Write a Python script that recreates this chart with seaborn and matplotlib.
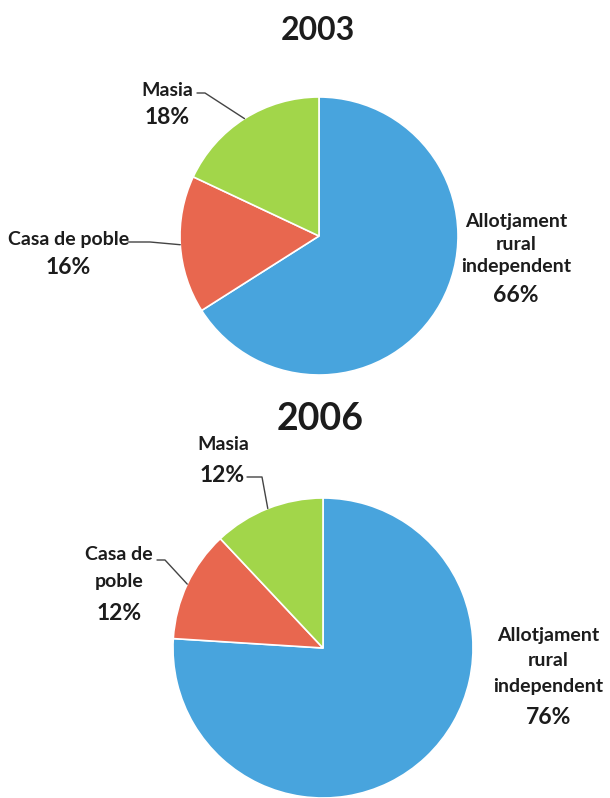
import numpy as np
import matplotlib.pyplot as plt
import seaborn as sns

# data
years = ['2003', '2006']
categories = ['Allotjament rural independent', 'Casa de poble', 'Masia']
shares_2003 = [66, 16, 18]
shares_2006 = [76, 12, 12]
colors = ['#48A4DD', '#E8674F', '#A2D64A']

sns.set_theme(style='white')
plt.rcParams['font.family'] = ['Lato', 'DejaVu Sans']

W, H = 610, 798
fig = plt.figure(figsize=(W / 100, H / 100), dpi=100)
ink = '#1c1c1c'
name_size, pct_size = 14, 16.5

# layout in pixels: pie centre/radius, title, name block, percent, leader line
layouts = [
    dict(cx=319, cy=236, r=139, title=(318, 30, 23),
         labels=[('Allotjament\nrural\nindependent', (516, 244), 1.37, (516, 295), None),
                 ('Casa de poble', (69, 240), 1.3, (68, 267), [(128, 242), (150, 242)]),
                 ('Masia', (167, 90), 1.3, (167, 118), [(197, 93), (205, 93)])]),
    dict(cx=323, cy=648, r=150, title=(320, 419, 27),
         labels=[('Allotjament\nrural\nindependent', (548, 661), 1.6, (549, 717), None),
                 ('Casa de\npoble', (119, 568), 1.7, (119, 613), [(157, 560), (165, 560)]),
                 ('Masia', (223, 445), 1.3, (222, 476), [(247, 477), (262, 477)])]),
]

for year, shares, lay in zip(years, [shares_2003, shares_2006], layouts):
    cx, cy, r = lay['cx'], lay['cy'], lay['r']
    ax = fig.add_axes([(cx - r) / W, (H - cy - r) / H, 2 * r / W, 2 * r / H])
    wedges, _ = ax.pie(shares, colors=colors, startangle=90, counterclock=False,
                       wedgeprops=dict(edgecolor='white', linewidth=1.2))
    ax.set_xlim(-1, 1)
    ax.set_ylim(-1, 1)
    ax.set_aspect('equal')

    def to_data(p):
        return ((p[0] - cx) / r, (cy - p[1]) / r)

    tx, ty, tsize = lay['title']
    x, y = to_data((tx, ty))
    ax.text(x, y, year, ha='center', va='center', fontsize=tsize,
            fontweight='bold', color=ink, clip_on=False)

    for w, share, (name, npos, ls, ppos, lead) in zip(wedges, shares, lay['labels']):
        x, y = to_data(npos)
        ax.text(x, y, name, ha='center', va='center', fontsize=name_size,
                fontweight='bold', color=ink, linespacing=ls, clip_on=False)
        x, y = to_data(ppos)
        ax.text(x, y, f'{share}%', ha='center', va='center', fontsize=pct_size,
                fontweight='bold', color=ink, clip_on=False)
        if lead:
            theta = np.deg2rad((w.theta1 + w.theta2) / 2)
            pts = [to_data(p) for p in lead] + [(np.cos(theta), np.sin(theta))]
            ax.plot([p[0] for p in pts], [p[1] for p in pts], color='#444444',
                    lw=1, clip_on=False)

# clipped fragment of a heading at the very top-left
fig.text(5 / W, 1 - 3 / H, '2003', ha='left', va='bottom', fontsize=13,
         fontweight='bold', color='#555555')

fig.savefig('out.png', dpi=100)
